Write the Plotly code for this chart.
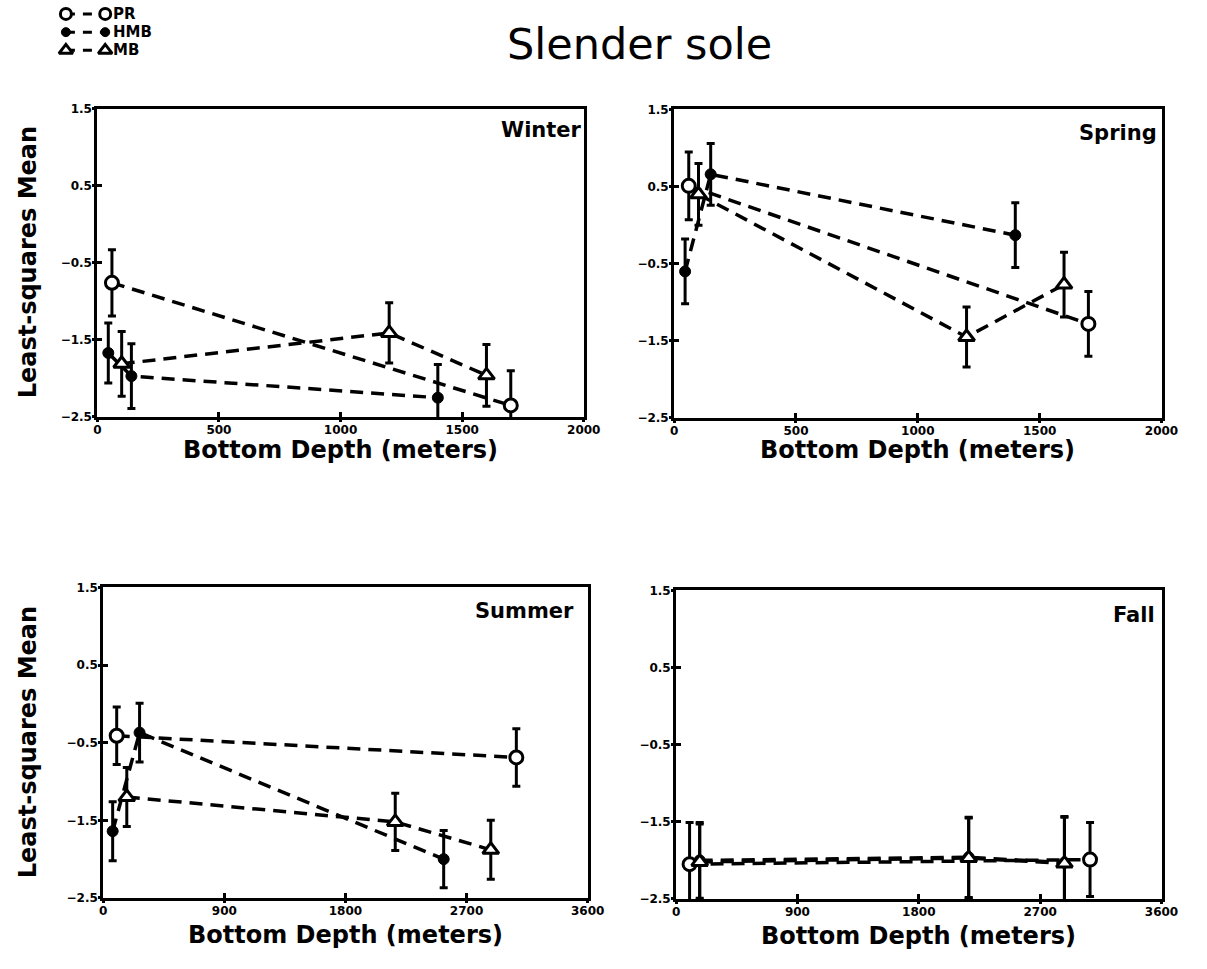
import plotly.graph_objects as go

# ---- data: least-squares mean (+/- error) by bottom depth, per season and area ----
series_names = ["PR", "HMB", "MB"]
seasons = ["Winter", "Spring", "Summer", "Fall"]

winter_pr_depth = [60, 1700]
winter_pr_mean = [-0.76, -2.35]
winter_pr_err = [0.43, 0.45]
winter_hmb_depth = [45, 140, 1400]
winter_hmb_mean = [-1.67, -1.97, -2.25]
winter_hmb_err = [0.39, 0.42, 0.43]
winter_mb_depth = [100, 1200, 1600]
winter_mb_mean = [-1.81, -1.41, -1.96]
winter_mb_err = [0.42, 0.39, 0.40]

spring_pr_depth = [60, 1700]
spring_pr_mean = [0.51, -1.28]
spring_pr_err = [0.44, 0.42]
spring_hmb_depth = [45, 150, 1400]
spring_hmb_mean = [-0.60, 0.66, -0.13]
spring_hmb_err = [0.42, 0.40, 0.42]
spring_mb_depth = [100, 1200, 1600]
spring_mb_mean = [0.40, -1.45, -0.77]
spring_mb_err = [0.40, 0.39, 0.42]

summer_pr_depth = [100, 3070]
summer_pr_mean = [-0.41, -0.69]
summer_pr_err = [0.37, 0.37]
summer_hmb_depth = [70, 270, 2530]
summer_hmb_mean = [-1.64, -0.37, -2.00]
summer_hmb_err = [0.38, 0.38, 0.37]
summer_mb_depth = [175, 2170, 2880]
summer_mb_mean = [-1.20, -1.52, -1.88]
summer_mb_err = [0.38, 0.37, 0.38]

fall_pr_depth = [100, 3070]
fall_pr_mean = [-2.05, -1.99]
fall_pr_err = [0.54, 0.48]
fall_hmb_depth = [175, 2170, 2880]
fall_hmb_mean = [-2.00, -1.96, -2.03]
fall_hmb_err = [0.49, 0.52, 0.60]
fall_mb_depth = [175, 2170, 2880]
fall_mb_mean = [-2.02, -1.97, -2.04]
fall_mb_err = [0.49, 0.52, 0.60]

y_ticks = [1.5, 0.5, -0.5, -1.5, -2.5]
x_ticks_top = [0, 500, 1000, 1500, 2000]
x_ticks_bottom = [0, 900, 1800, 2700, 3600]

panel_data = {
    "Winter": [(winter_pr_depth, winter_pr_mean, winter_pr_err),
               (winter_hmb_depth, winter_hmb_mean, winter_hmb_err),
               (winter_mb_depth, winter_mb_mean, winter_mb_err)],
    "Spring": [(spring_pr_depth, spring_pr_mean, spring_pr_err),
               (spring_hmb_depth, spring_hmb_mean, spring_hmb_err),
               (spring_mb_depth, spring_mb_mean, spring_mb_err)],
    "Summer": [(summer_pr_depth, summer_pr_mean, summer_pr_err),
               (summer_hmb_depth, summer_hmb_mean, summer_hmb_err),
               (summer_mb_depth, summer_mb_mean, summer_mb_err)],
    "Fall": [(fall_pr_depth, fall_pr_mean, fall_pr_err),
             (fall_hmb_depth, fall_hmb_mean, fall_hmb_err),
             (fall_mb_depth, fall_mb_mean, fall_mb_err)],
}

# ---- styling ----
W, H = 1207, 969
BLACK = "black"
FONT = "DejaVu Sans"

marker_style = {
    "PR": dict(symbol="circle", size=13, color="white", line=dict(color=BLACK, width=3)),
    "HMB": dict(symbol="circle", size=11, color=BLACK, line=dict(color=BLACK, width=1)),
    "MB": dict(symbol="triangle-up", size=14, color="white", line=dict(color=BLACK, width=3)),
}
DASH = "13px,8px"

# panel boxes in pixels: left, right, top, bottom
boxes = {
    "Winter": (95, 590, 103, 416),
    "Spring": (682, 1178, 104, 417),
    "Summer": (101, 594, 589, 904),
    "Fall": (684, 1178, 592, 905),
}
axis_ids = {"Winter": "", "Spring": "2", "Summer": "3", "Fall": "4"}
# secondary axes carrying the outer half of each tick mark
overlay_ids = {"Winter": "6", "Spring": "7", "Summer": "8", "Fall": "9"}
label_pos = {"Winter": (1.0, 0.975), "Spring": (0.995, 0.97),
             "Summer": (0.975, 0.97), "Fall": (0.99, 0.965)}
xtitle_gap = {"Winter": 33, "Spring": 33, "Summer": 38, "Fall": 38}

tick_font = dict(family=FONT, size=12, color=BLACK, weight="bold")

fig = go.Figure()
layout = {}

for season in seasons:
    aid = axis_ids[season]
    oid = overlay_ids[season]
    xref, yref = "x" + aid, "y" + aid
    for name, (depth, mean, err) in zip(series_names, panel_data[season]):
        fig.add_trace(go.Scatter(
            x=depth, y=mean, xaxis=xref, yaxis=yref,
            mode="lines+markers",
            line=dict(color=BLACK, width=3.5, dash=DASH),
            marker=marker_style[name],
            error_y=dict(type="data", array=err, color=BLACK, thickness=3, width=4),
            showlegend=False, name=name, cliponaxis=True,
        ))
    l, r, t, b = boxes[season]
    bottom_row = season in ("Summer", "Fall")
    xt = x_ticks_bottom if bottom_row else x_ticks_top
    common = dict(ticks="inside", ticklen=5, tickwidth=2.5, tickcolor=BLACK,
                  showline=True, mirror=True, linewidth=3, linecolor=BLACK,
                  showgrid=False, zeroline=False, tickfont=tick_font)
    layout["xaxis" + aid] = dict(domain=[l / W, r / W], anchor=yref,
                                 range=[0, xt[-1]], tickvals=xt, **common)
    layout["yaxis" + aid] = dict(domain=[1 - b / H, 1 - t / H], anchor=xref,
                                 range=[-2.5, 1.5], tickvals=y_ticks, **common)
    outer = dict(ticks="outside", ticklen=4, tickwidth=2.5, tickcolor=BLACK,
                 showline=False, showgrid=False, zeroline=False, showticklabels=False)
    layout["xaxis" + oid] = dict(overlaying=xref, anchor=yref, side="bottom",
                                 range=[0, xt[-1]], tickvals=xt, **outer)
    layout["yaxis" + oid] = dict(overlaying=yref, anchor=xref, side="left",
                                 range=[-2.5, 1.5], tickvals=y_ticks, **outer)
    fig.add_trace(go.Scatter(x=[None], y=[None], xaxis="x" + oid, yaxis=yref,
                             showlegend=False, hoverinfo="skip"))
    fig.add_trace(go.Scatter(x=[None], y=[None], xaxis=xref, yaxis="y" + oid,
                             showlegend=False, hoverinfo="skip"))

annotations = []
label_font = dict(family=FONT, size=24, color=BLACK, weight="bold")
for season in seasons:
    aid = axis_ids[season]
    l, r, t, b = boxes[season]
    lx, ly = label_pos[season]
    # season label, top right inside the frame
    annotations.append(dict(
        text=season, xref=f"x{aid} domain", yref=f"y{aid} domain",
        x=lx, y=ly, xanchor="right", yanchor="top", showarrow=False,
        font=dict(family=FONT, size=21, color=BLACK, weight="bold"),
    ))
    # x-axis title
    annotations.append(dict(
        text="Bottom Depth (meters)", xref="paper", yref="paper",
        x=(l + r) / 2 / W, y=1 - (b + xtitle_gap[season]) / H,
        xanchor="center", yanchor="middle", showarrow=False, font=label_font,
    ))
    if season in ("Winter", "Summer"):
        annotations.append(dict(
            text="Least-squares Mean", xref="paper", yref="paper",
            x=24 / W, y=1 - (t + b) / 2 / H, xanchor="center", yanchor="middle",
            textangle=-90, showarrow=False, font=label_font,
        ))

annotations.append(dict(
    text="Slender sole", xref="paper", yref="paper", x=647 / W, y=1 - 38 / H,
    xanchor="center", yanchor="middle", showarrow=False,
    font=dict(family=FONT, size=43, color=BLACK),
))

# ---- key: marker - - marker  NAME ----
for row, name in enumerate(series_names):
    fig.add_trace(go.Scatter(
        x=[0, 1], y=[row, row], xaxis="x5", yaxis="y5",
        mode="lines+markers",
        line=dict(color=BLACK, width=3, dash="9px,8px"),
        marker=dict(marker_style[name], size=marker_style[name]["size"] - 2),
        showlegend=False, cliponaxis=False, hoverinfo="skip",
    ))
    annotations.append(dict(
        text=name, xref="x5", yref="y5", x=1, y=row, xanchor="left", yanchor="middle",
        xshift=6, showarrow=False, font=dict(family=FONT, size=15, color=BLACK, weight="bold"),
    ))
layout["xaxis5"] = dict(domain=[63 / W, 103 / W], range=[0, 1], anchor="y5", visible=False)
layout["yaxis5"] = dict(domain=[1 - 49 / H, 1 - 2 / H], range=[2.27, -0.27], anchor="x5", visible=False)

fig.update_layout(
    width=W, height=H, margin=dict(l=0, r=0, t=0, b=0),
    paper_bgcolor="white", plot_bgcolor="white",
    annotations=annotations, showlegend=False, **layout,
)

fig.write_html("out.html")
